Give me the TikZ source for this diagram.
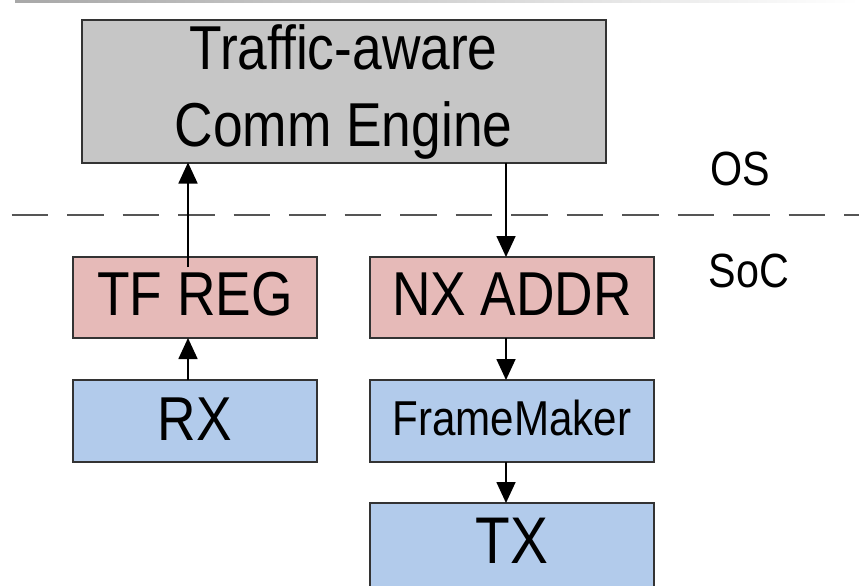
\documentclass[tikz,border=0pt]{standalone}
\usepackage{fontspec}
\setmainfont{Liberation Sans}[FakeStretch=0.86]
\usetikzlibrary{arrows.meta}
\definecolor{boxgray}{HTML}{C6C6C6}
\definecolor{boxpink}{HTML}{E6BAB8}
\definecolor{boxblue}{HTML}{B2CBEB}
\definecolor{edgegray}{HTML}{333333}
\definecolor{dashgray}{HTML}{555555}
\definecolor{topbar}{HTML}{A8A8A8}
\begin{document}
\begin{tikzpicture}[x=1pt,y=-1pt,
  blk/.style={draw=edgegray, line width=2pt, outer sep=0pt, inner sep=0pt, align=center, text=black},
  single/.style n args={2}{blk, text height=#1, text depth=#2},
  arr/.style={line width=1.7pt, draw=black, -{Triangle[length=21pt,width=19pt]}},
  big/.style={font=\fontsize{62}{77}\selectfont},
  mid/.style={font=\fontsize{49}{58}\selectfont},
  lbl/.style={font=\fontsize{48}{58}\selectfont, anchor=base, inner sep=0pt},
]
\clip (0,0) rectangle (859,586);
\useasboundingbox (0,0) rectangle (859,586);
\shade[left color=topbar, right color=white] (15,0) rectangle (859,3);
\draw[dashgray, line width=2.8pt, dash pattern=on 36.5pt off 19pt] (11.5,215) -- (859,215);

\node[blk, big, fill=boxgray, minimum width=524pt, minimum height=142pt] (eng) at (343.5,91.5) {Traffic-aware\\Comm Engine};
\node[single={44.4pt}{9.4pt}, big, fill=boxpink, minimum width=244pt, minimum height=81pt] (tf) at (195,297.5) {TF REG};
\node[single={44.4pt}{6.4pt}, big, fill=boxblue, minimum width=244pt, minimum height=82pt] (rx) at (195,421) {RX};
\node[single={44.4pt}{9.4pt}, big, fill=boxpink, minimum width=284pt, minimum height=81pt] (nx) at (512,297.5) {NX ADDR};
\node[single={35pt}{7pt}, mid, fill=boxblue, minimum width=284pt, minimum height=82pt] (fm) at (512,421) {FrameMaker};
\node[single={47pt}{13pt}, font=\fontsize{66}{77}\selectfont, fill=boxblue, minimum width=284pt, minimum height=86pt] (tx) at (512,546) {TX};

\node[lbl] (os) at (740,185) {OS};
\node[lbl] (soc) at (749,287) {SoC};

\coordinate (lx) at (188,0);
\coordinate (rxx) at (506,0);
\path (tf.north -| lx) ++(0,10) coordinate (ls);
\draw[arr] (ls) -- (eng.south -| lx);
\draw[arr] (rx.north -| lx) -- (tf.south -| lx);
\draw[arr] (eng.south -| rxx) -- (nx.north -| rxx);
\draw[arr] (nx.south -| rxx) -- (fm.north -| rxx);
\draw[arr] (fm.south -| rxx) -- (tx.north -| rxx);
\end{tikzpicture}
\end{document}
